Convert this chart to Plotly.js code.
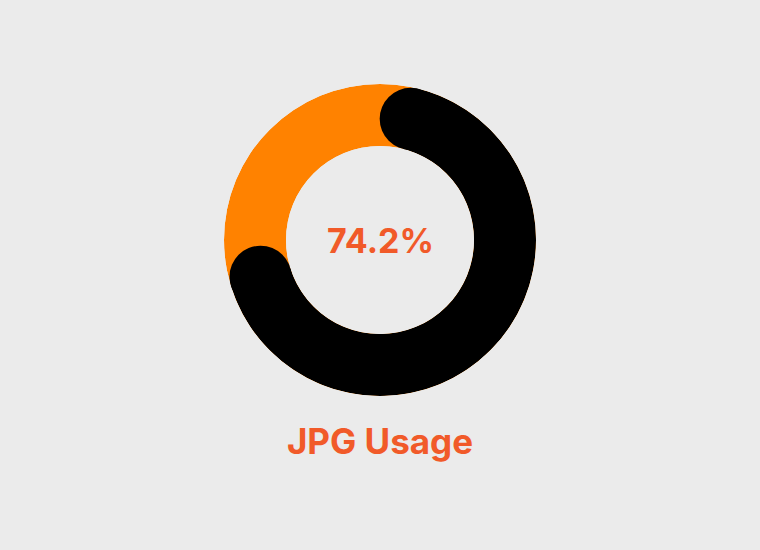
<!DOCTYPE html>
<html>
<head>
<meta charset="utf-8">
<script src="https://cdn.plot.ly/plotly-3.0.1.min.js"></script>
<style>
  html, body { margin: 0; padding: 0; background: #ebebeb; }
  #plot { width: 760px; height: 550px; }
</style>
</head>
<body>
<div id="plot"></div>
<script>
// chart data
var categories = ['JPG', 'Other'];
var shares = [74.2, 25.8];
var chartTitle = 'JPG Usage';

// ring geometry (px)
var outerPx = 156;
var innerPx = 94;
var ringPx = outerPx - innerPx;
var midPx = (outerPx + innerPx) / 2;
// angle eaten by one rounded cap, degrees
var capDeg = (ringPx / 2) / midPx * 180 / Math.PI;

var total = shares[0] + shares[1];
var usedDeg = shares[0] / total * 360;
var arcStart = capDeg;
var arcEnd = usedDeg - capDeg;

var rest = {
  type: 'barpolar',
  name: categories[1],
  r: [1],
  theta: [180],
  width: [360],
  marker: {color: '#ff8200', line: {width: 0}},
  hoverinfo: 'skip'
};

var used = {
  type: 'barpolar',
  name: categories[0],
  r: [1],
  theta: [(arcStart + arcEnd) / 2],
  width: [arcEnd - arcStart],
  marker: {color: '#000000', line: {width: 0}},
  hoverinfo: 'skip'
};

var caps = {
  type: 'scatterpolar',
  mode: 'markers',
  r: [0.5, 0.5],
  theta: [arcStart, arcEnd],
  marker: {color: '#000000', size: ringPx, line: {width: 0}},
  hoverinfo: 'skip'
};

var layout = {
  width: 760,
  height: 550,
  margin: {l: 0, r: 0, t: 0, b: 0},
  paper_bgcolor: '#ebebeb',
  plot_bgcolor: '#ebebeb',
  showlegend: false,
  polar: {
    domain: {x: [(380 - outerPx) / 760, (380 + outerPx) / 760],
             y: [(310 - outerPx) / 550, (310 + outerPx) / 550]},
    hole: innerPx / outerPx,
    bgcolor: 'rgba(0,0,0,0)',
    radialaxis: {range: [0, 1], visible: false},
    angularaxis: {rotation: 90, direction: 'clockwise', visible: false}
  },
  title: {
    text: chartTitle,
    font: {family: 'Inter', weight: 700, size: 35, color: '#f15a29'},
    x: 0.5,
    xanchor: 'center',
    y: 108 / 550,
    yanchor: 'middle'
  },
  annotations: [{
    text: shares[0].toFixed(1) + '%',
    x: 0.5, y: 310 / 550,
    xref: 'paper', yref: 'paper',
    xanchor: 'center', yanchor: 'middle',
    showarrow: false,
    font: {family: 'Inter', weight: 700, size: 34, color: '#f15a29'}
  }]
};

Plotly.newPlot('plot', [rest, used, caps], layout, {displayModeBar: false, staticPlot: true});
</script>
</body>
</html>
